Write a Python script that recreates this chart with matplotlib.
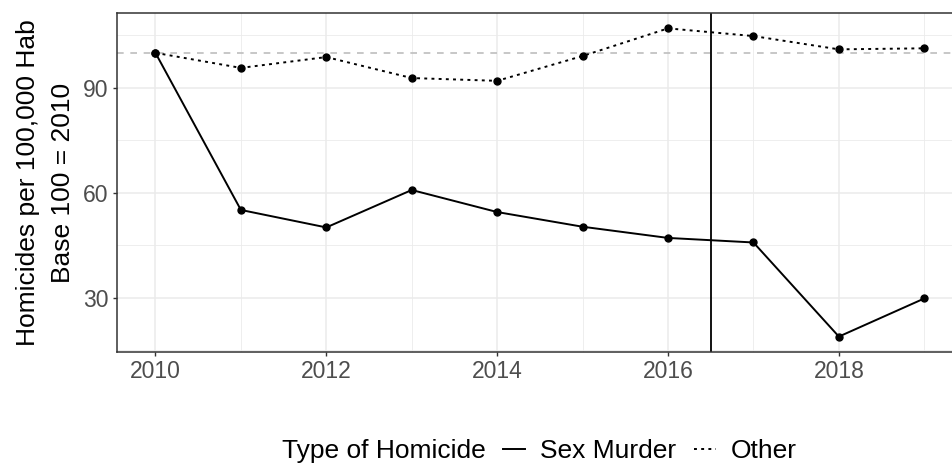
import matplotlib
matplotlib.use("Agg")
import matplotlib.pyplot as plt
from matplotlib.lines import Line2D
from matplotlib.ticker import MultipleLocator

plt.rcParams['font.family'] = ['Liberation Sans', 'DejaVu Sans']

# datos (base 100 = 2010)
years = [2010, 2011, 2012, 2013, 2014, 2015, 2016, 2017, 2018, 2019]
sex_murder = [100, 55.1, 50.1, 60.8, 54.5, 50.3, 47.1, 45.8, 18.9, 29.8]
other = [100, 95.7, 98.8, 92.8, 92.0, 99.1, 107.0, 104.8, 101.0, 101.3]
series_labels = ['Sex Murder', 'Other']
legend_title = 'Type of Homicide'
y_title = 'Homicides per 100,000 Hab\nBase 100 = 2010'
base_line = 100
break_year = 2016.5

fig = plt.figure(figsize=(9.52, 4.7), dpi=100)
# el panel se sale un poco por la derecha, como en la imagen original
ax = fig.add_axes([0.1229, 0.2511, 0.8884, 0.7213])

grid_col = '#EBEBEB'
ax.set_axisbelow(True)
ax.xaxis.set_major_locator(MultipleLocator(2))
ax.xaxis.set_minor_locator(MultipleLocator(1))
ax.yaxis.set_major_locator(MultipleLocator(30))
ax.yaxis.set_minor_locator(MultipleLocator(15))
ax.grid(which='major', color=grid_col, lw=1.1)
ax.grid(which='minor', color=grid_col, lw=0.6)
ax.tick_params(which='minor', length=0)
ax.tick_params(which='major', length=3, width=1, color='#333333',
               labelsize=16.5, labelcolor='#4D4D4D', pad=3)
for sp in ax.spines.values():
    sp.set_color('#333333')
    sp.set_linewidth(1.1)

ax.axhline(base_line, color='#BEBEBE', lw=1.2, dashes=(4, 4), zorder=1)
ax.axvline(break_year, color='black', lw=1.3, zorder=2)

solid_style = dict(color='black', lw=1.4)
dotted_style = dict(color='black', lw=1.4, dashes=(1.5, 2.2))
ax.plot(years, sex_murder, **solid_style, zorder=3)
ax.plot(years, other, **dotted_style, zorder=3)
ax.plot(years, sex_murder, 'o', color='black', ms=5, zorder=4)
ax.plot(years, other, 'o', color='black', ms=5, zorder=4)

ax.set_xlim(2009.55, 2019.45)
ax.set_ylim(14.5, 111.4)
ax.set_ylabel(y_title, fontsize=19, linespacing=1.56, labelpad=6)

handles = [Line2D([], [], **solid_style), Line2D([], [], **dotted_style)]
leg_y = 0.04
fig.text(282 / 952, leg_y, legend_title, fontsize=19, ha='left', va='center')
fig.legend(handles, series_labels, loc='center left',
           bbox_to_anchor=(503 / 952, leg_y), ncol=2, frameon=False,
           fontsize=19, handlelength=0.83, handletextpad=0.57,
           columnspacing=0.68, borderpad=0, borderaxespad=0)

fig.savefig('out.png', dpi=100)
